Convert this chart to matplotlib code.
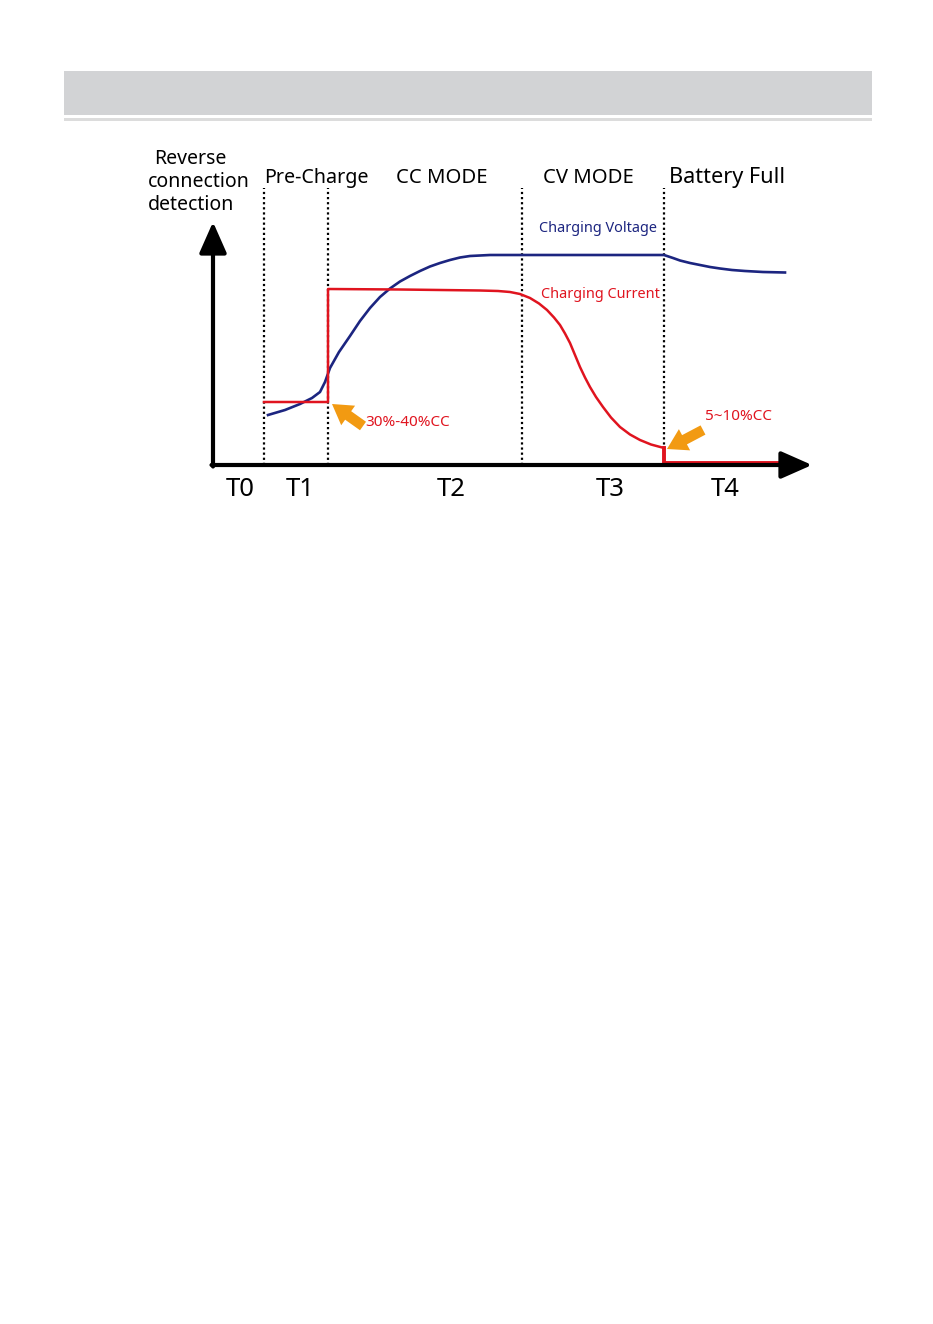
import matplotlib as mpl
mpl.use("Agg")
import matplotlib.pyplot as plt
from matplotlib.patches import Rectangle

plt.rcParams["font.family"] = ["Noto Sans", "DejaVu Sans"]

NAVY, RED, ORANGE, INK = "#1c2580", "#e0141f", "#f29a12", "#000000"
HDR, HDR_LINE = "#d2d3d5", "#dcdcdc"

# ---- data (time / level in chart units) ----
phase_bounds = [5.1, 11.5, 30.9, 45.1]
phase_names = ["Pre-Charge", "CC MODE", "CV MODE", "Battery Full"]
t_labels = ["T0", "T1", "T2", "T3", "T4"]
t_label_x = [2.7, 8.7, 23.8, 39.7, 51.2]

volt_t = [5.5, 7.2, 8.7, 9.9, 10.7, 11.2, 11.7, 12.6, 13.7, 14.7, 15.7, 16.7, 17.7,
          18.7, 19.7, 20.7, 21.7, 22.7, 23.7, 24.7, 25.7, 27.7, 35.0, 45.1,
          46.0, 46.7, 47.7, 48.7, 49.7, 50.7, 51.9, 53.2, 55.0, 57.2]
volt_v = [5.0, 5.5, 6.1, 6.7, 7.3, 8.3, 9.7, 11.3, 12.9, 14.4, 15.7, 16.8, 17.65,
          18.35, 18.9, 19.4, 19.85, 20.2, 20.5, 20.75, 20.9, 21.0, 21.0, 21.0,
          20.7, 20.45, 20.2, 20.0, 19.8, 19.65, 19.5, 19.4, 19.3, 19.25]

curr_t = [5.1, 11.5, 11.5, 18.7, 26.7, 28.5, 29.7, 30.7, 31.7, 32.6, 33.4, 34.1,
          34.7, 35.2, 35.7, 36.2, 36.7, 37.2, 37.7, 38.3, 39.0, 39.8, 40.7, 41.7,
          42.7, 43.8, 45.1, 45.1, 57.2]
curr_i = [6.3, 6.3, 17.6, 17.55, 17.45, 17.4, 17.3, 17.1, 16.7, 16.15, 15.5, 14.75,
          14.0, 13.15, 12.2, 11.0, 9.8, 8.75, 7.8, 6.8, 5.8, 4.75, 3.8, 3.05,
          2.5, 2.05, 1.7, 0.2, 0.2]

W, H = 933, 1324
fig = plt.figure(figsize=(W / 100, H / 100), dpi=100)
fig.patch.set_facecolor("white")

# overlay in pixel coords for page chrome and labels
bg = fig.add_axes([0, 0, 1, 1])
bg.set_xlim(0, W); bg.set_ylim(H, 0); bg.axis("off")
bg.add_patch(Rectangle((64, 71), 808, 44, color=HDR, lw=0))
bg.add_patch(Rectangle((64, 118), 808, 3, color=HDR_LINE, lw=0))

# chart axes: origin at px (213, 465), 10 px per unit
x0, y0 = 213, 465
ax = fig.add_axes([x0 / W, (H - y0) / H, 620 / W, 300 / H])
ax.set_xlim(0, 62); ax.set_ylim(0, 30); ax.axis("off")

for b in phase_bounds:
    ax.plot([b, b], [0, 27.7], color=INK, lw=1.6, ls=(0, (1, 1.3)), zorder=1)

ax.plot(volt_t, volt_v, color=NAVY, lw=1.9, zorder=3, solid_joinstyle="round")
ax.plot(curr_t[:-2], curr_i[:-2], color=RED, lw=1.8, zorder=3, solid_joinstyle="round")
ax.plot(curr_t[-3:], curr_i[-3:], color=RED, lw=2.8, zorder=3)

# axes arrows
arrow = dict(arrowstyle="-|>,head_width=0.42,head_length=0.95", lw=3, color=INK,
             mutation_scale=20, shrinkA=0, shrinkB=0)
ax.annotate("", xy=(0, 24.3), xytext=(0, -0.15), arrowprops=arrow, zorder=4)
ax.annotate("", xy=(59.9, 0), xytext=(-0.15, 0), arrowprops=arrow, zorder=4)

# orange pointer arrows
parr = dict(arrowstyle="simple,head_width=1.15,head_length=0.95,tail_width=0.5",
            color=ORANGE, lw=0, mutation_scale=15, shrinkA=0, shrinkB=0)
ax.annotate("", xy=(11.9, 6.1), xytext=(15.0, 3.9), arrowprops=parr, zorder=5)
ax.annotate("", xy=(45.4, 1.6), xytext=(49.0, 3.5), arrowprops=parr, zorder=5)

# texts (pixel coords)
bg.text(154, 159, "Reverse", ha="left", va="center", fontsize=14, color=INK)
bg.text(148, 182, "connection", ha="left", va="center", fontsize=14, color=INK)
bg.text(148, 205, "detection", ha="left", va="center", fontsize=14, color=INK)
for name, cx, fs in zip(phase_names, [316, 442, 588, 727], [14.2, 14.6, 14.6, 15.6]):
    bg.text(cx, 178, name, ha="center", va="center", fontsize=fs, color=INK)
for lab, tx in zip(t_labels, t_label_x):
    bg.text(x0 + tx * 10, 490, lab, ha="center", va="center", fontsize=18.5, color=INK)

bg.text(598, 229, "Charging Voltage", ha="center", va="center", fontsize=10.4, color=NAVY)
bg.text(600, 295, "Charging Current", ha="center", va="center", fontsize=10.4, color=RED)
bg.text(408, 423, "30%-40%CC", ha="center", va="center", fontsize=11, color=RED)
bg.text(739, 417, "5~10%CC", ha="center", va="center", fontsize=11, color=RED)

fig.savefig("out.png", dpi=100, facecolor="white")
